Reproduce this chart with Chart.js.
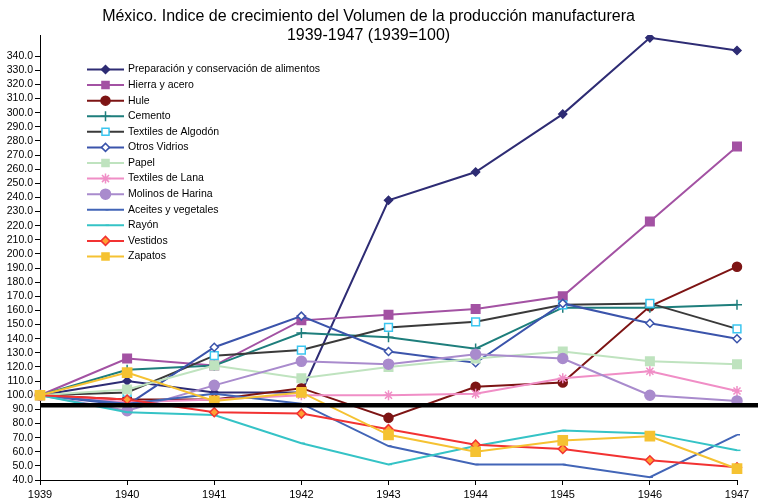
<!DOCTYPE html>
<html>
<head>
<meta charset="utf-8">
<script src="https://cdn.jsdelivr.net/npm/chart.js@4/dist/chart.umd.min.js"></script>
<style>
  html, body { margin: 0; padding: 0; background: #fff; }
  #wrap { position: relative; width: 758px; height: 500px; }
</style>
</head>
<body>
<div id="wrap"><canvas id="chart" width="758" height="500"></canvas></div>
<script>
// Data (index 1939 = 100)
const years = ['1939', '1940', '1941', '1942', '1943', '1944', '1945', '1946', '1947'];

const preparacion = [100, 110, 102, 102, 238, 258, 299, 353, 344];
const hierra      = [100, 126, 121, 153, 157, 161, 170, 223, 276];
const hule        = [100, 97, 97, 105, 84, 106, 109, 163, 191];
const cemento     = [100, 118, 121, 144, 141, 133, 162, 162, 164];
const algodon     = [100, 102, 128, 132, 148, 152, 164, 165, 147];
const vidrios     = [100, 93, 134, 156, 131, 123, 165, 151, 140];
const papel       = [100, 104, 121, 112, 120, 126, 131, 124, 122];
const lana        = [100, 95, 97, 100, 100, 101, 112, 117, 103];
const molinos     = [100, 89, 107, 124, 122, 129, 126, 100, 96];
const aceites     = [100, 94, 101, 94, 64, 51, 51, 42, 72];
const rayon       = [100, 88, 86, 66, 51, 64, 75, 73, 61];
const vestidos    = [100, 97, 88, 87, 76, 65, 62, 54, 49];
const zapatos     = [100, 116, 96, 102, 72, 60, 68, 71, 48];

const yTicks = { min: 40, max: 355, step: 10 };
const refLine = 93;   // heavy black line

const titleLines = ['México. Indice de crecimiento del Volumen de la producción manufacturera', '1939-1947 (1939=100)'];

function series(label, data, color, style, radius, fill) {
    return {
        label: label,
        data: data,
        borderColor: color,
        backgroundColor: fill || color,
        borderWidth: 2,
        pointStyle: style,
        pointRadius: radius,
        pointHoverRadius: radius,
        pointBorderColor: color,
        pointBackgroundColor: fill || color,
        pointBorderWidth: 1.5,
        tension: 0
    };
}

const datasets = [
    series('Preparación y conservación de alimentos', preparacion, '#2E2C74', 'rectRot', 4),
    series('Hierra y acero', hierra, '#A352A3', 'rect', 6),
    series('Hule', hule, '#7D1414', 'circle', 4.5),
    series('Cemento', cemento, '#1E7E7C', 'cross', 5),
    series('Textiles de Algodón', algodon, '#3A3A3A', 'rect', 5.5, '#ffffff'),
    series('Otros Vidrios', vidrios, '#3B54AB', 'rectRot', 4, '#ffffff'),
    series('Papel', papel, '#BFE3BF', 'rect', 6),
    series('Textiles de Lana', lana, '#F08EC6', 'star', 5),
    series('Molinos de Harina', molinos, '#A98BCD', 'circle', 5),
    series('Aceites y vegetales', aceites, '#4265B7', 'dash', 3),
    series('Rayón', rayon, '#35C3C6', 'dash', 3.5),
    series('Vestidos', vestidos, '#F23232', 'rectRot', 4.5, '#FFA033'),
    series('Zapatos', zapatos, '#F5C232', 'rect', 6.5)
];
// cyan open squares on the Algodón line
datasets[4].pointBorderColor = '#3BC6F0';
// later series drawn on top, like the original
datasets.forEach((d, i) => { d.order = datasets.length - i; });

// heavy reference line across the plot, drawn through the y scale
const refLinePlugin = {
    id: 'refLine',
    afterDatasetsDraw(chart) {
        const y = chart.scales.y.getPixelForValue(refLine);
        const ctx = chart.ctx;
        ctx.save();
        ctx.strokeStyle = '#000';
        ctx.lineWidth = 4.5;
        ctx.beginPath();
        ctx.moveTo(chart.chartArea.left, y);
        ctx.lineTo(chart.width, y);
        ctx.stroke();
        ctx.restore();
    }
};

// legend inside the plot: line sample + marker + label
const legendPlugin = {
    id: 'insideLegend',
    afterDraw(chart) {
        const ctx = chart.ctx;
        const x0 = 87, x1 = 124, tx = 128, y0 = 69.5, step = 15.58;
        ctx.save();
        ctx.font = '10.5px "Liberation Sans", Arial, sans-serif';
        ctx.textBaseline = 'middle';
        ctx.textAlign = 'left';
        chart.data.datasets.forEach((d, i) => {
            const y = y0 + i * step;
            ctx.strokeStyle = d.borderColor;
            ctx.lineWidth = 2;
            ctx.beginPath();
            ctx.moveTo(x0, y);
            ctx.lineTo(x1, y);
            ctx.stroke();
            ctx.fillStyle = d.pointBackgroundColor;
            ctx.strokeStyle = d.pointBorderColor;
            ctx.lineWidth = d.pointBorderWidth;
            Chart.helpers.drawPoint(ctx, {
                pointStyle: d.pointStyle,
                radius: Math.min(d.pointRadius, 5),
                rotation: 0,
                borderWidth: d.pointBorderWidth
            }, (x0 + x1) / 2, y);
            ctx.fillStyle = '#000';
            ctx.fillText(d.label, tx, y);
        });
        ctx.restore();
    }
};

const axisFont = { family: '"Liberation Sans", Arial, sans-serif', size: 10.5 };

new Chart(document.getElementById('chart'), {
    type: 'line',
    data: { labels: years, datasets: datasets },
    options: {
        responsive: false,
        animation: false,
        events: [],
        layout: { padding: { left: 0, right: 21, top: 0, bottom: 0 } },
        plugins: {
            legend: { display: false },
            tooltip: { enabled: false },
            title: {
                display: true,
                text: titleLines,
                color: '#000',
                font: { family: '"Liberation Sans", Arial, sans-serif', size: 16, weight: 'normal', lineHeight: 1.2 },
                padding: { top: 7, bottom: -10.4 }
            }
        },
        scales: {
            x: {
                offset: false,
                grid: { display: true, drawOnChartArea: false, drawTicks: true, tickLength: 5, color: '#000', offset: false },
                border: { display: true, color: '#000', width: 1 },
                ticks: { color: '#000', font: { family: axisFont.family, size: 11 }, padding: 3, maxRotation: 0, autoSkip: false },
                afterFit(scale) { scale.height = 20; }
            },
            y: {
                min: yTicks.min,
                max: yTicks.max,
                grid: { display: true, drawOnChartArea: false, drawTicks: true, tickLength: 5, color: '#000' },
                border: { display: true, color: '#000', width: 1 },
                ticks: {
                    color: '#000',
                    font: axisFont,
                    padding: 2,
                    autoSkip: false,
                    stepSize: yTicks.step,
                    callback: v => v.toFixed(1)
                },
                afterBuildTicks(scale) {
                    scale.ticks = scale.ticks.filter(t => t.value % yTicks.step === 0);
                },
                afterFit(scale) { scale.width = 40; }
            }
        }
    },
    plugins: [refLinePlugin, legendPlugin]
});
</script>
</body>
</html>
